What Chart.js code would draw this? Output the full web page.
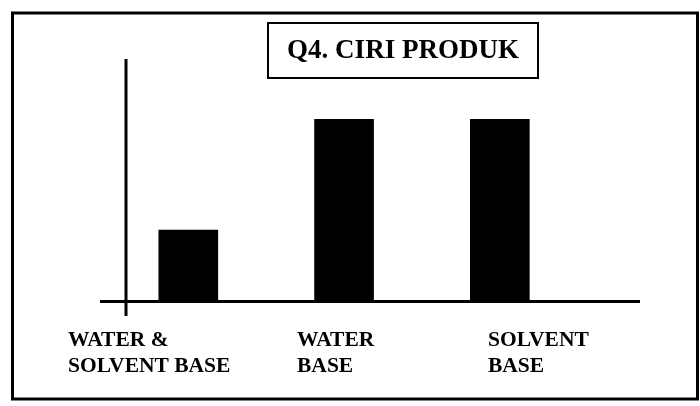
<!DOCTYPE html>
<html><head><meta charset="utf-8">
<script src="https://cdn.jsdelivr.net/npm/chart.js@4/dist/chart.umd.min.js"></script>
<style>html,body{margin:0;padding:0;background:#fff;} #wrap{width:700px;height:406px;position:relative}</style>
</head><body><div id="wrap"><canvas id="c" width="700" height="406"></canvas></div>
<script>
const title = "Q4. CIRI PRODUK";
const categories = [["WATER &", "SOLVENT BASE"], ["WATER", "BASE"], ["SOLVENT", "BASE"]];
const values = [29, 75, 75];
const yMax = 100;

const FONT = "'Liberation Serif','Times New Roman',serif";
// left edge of each category label, relative to its bar, in category units
const labelShift = [-0.772, -0.302, -0.076];

const deco = {
  id: 'deco',
  beforeDraw(chart) {
    const ctx = chart.ctx;
    ctx.save(); ctx.fillStyle = '#fff'; ctx.fillRect(0, 0, chart.width, chart.height); ctx.restore();
  },
  afterDraw(chart) {
    const { ctx, chartArea: a, scales: { y } } = chart;
    const y0 = y.getPixelForValue(0);
    ctx.save();
    ctx.strokeStyle = '#000';
    ctx.lineWidth = 3;
    ctx.beginPath(); ctx.moveTo(a.left - 26, y0 + 1.5); ctx.lineTo(a.right, y0 + 1.5); ctx.stroke();
    ctx.beginPath(); ctx.moveTo(a.left, a.top); ctx.lineTo(a.left, y0 + 16); ctx.stroke();
    ctx.strokeRect(12.5, 13, 685, 386);
    ctx.lineWidth = 2;
    ctx.fillStyle = '#fff';
    ctx.fillRect(268, 23, 270, 55);
    ctx.strokeRect(268, 23, 270, 55);
    ctx.fillStyle = '#000';
    ctx.font = `bold 27px ${FONT}`;
    ctx.textAlign = 'center'; ctx.textBaseline = 'middle';
    ctx.fillText(title, 403, 51);
    ctx.restore();
  }
};

new Chart(document.getElementById('c'), {
  type: 'bar',
  data: {
    datasets: [{
      data: values.map((v, i) => ({ x: i + 1, y: v })),
      backgroundColor: '#000',
      borderWidth: 0,
      barThickness: 59
    }]
  },
  options: {
    responsive: false,
    animation: false,
    devicePixelRatio: 1,
    layout: { padding: { left: 126, top: 59, right: 60, bottom: 26 } },
    plugins: { legend: { display: false }, tooltip: { enabled: false }, title: { display: false } },
    scales: {
      x: {
        type: 'linear', min: 0.6, max: 3.9, offset: false,
        grid: { display: false, drawTicks: false, offset: false },
        border: { display: false },
        afterBuildTicks: s => { s.ticks = categories.map((c, i) => ({ value: i + 1 + labelShift[i] })); },
        afterFit: s => { s.height = 80; },
        ticks: {
          autoSkip: false, align: 'start', maxRotation: 0, minRotation: 0,
          padding: 27, color: '#000',
          font: { family: FONT, size: 21.5, weight: 'bold', lineHeight: 1.23 },
          callback: (v, i) => categories[i]
        }
      },
      y: { display: false, min: 0, max: yMax }
    }
  },
  plugins: [deco]
});
</script>
</body></html>
